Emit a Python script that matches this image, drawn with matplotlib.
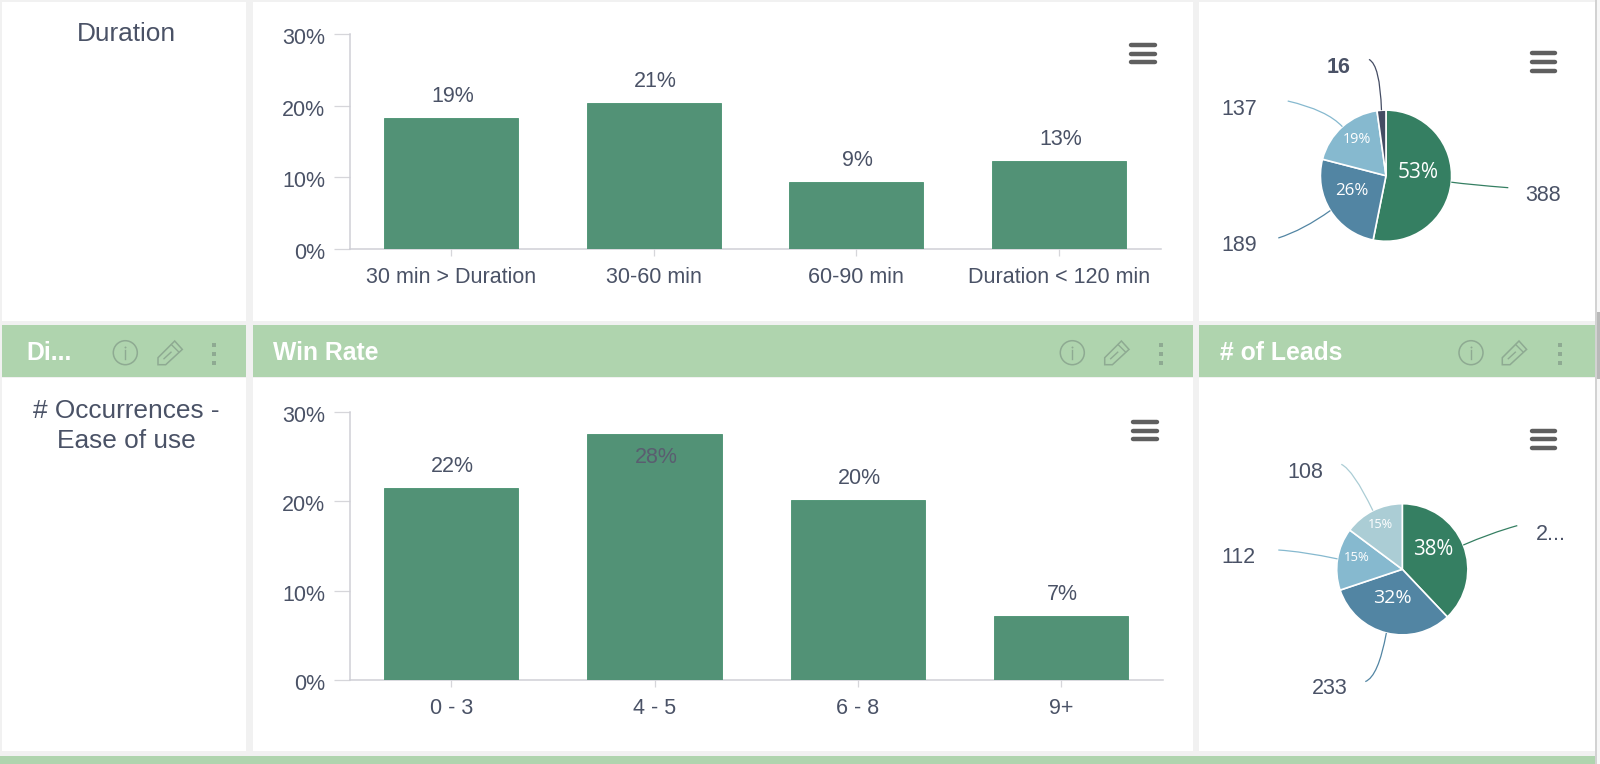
import matplotlib
matplotlib.use('Agg')
import matplotlib.pyplot as plt
from matplotlib.patches import Rectangle, Circle, Polygon, PathPatch
from matplotlib.path import Path
from matplotlib.transforms import ScaledTranslation
import numpy as np

plt.rcParams['font.family'] = ['Liberation Sans', 'DejaVu Sans']

W, H = 1600, 764
TEXT = '#4a5266'

# data
duration_cats = ['30 min > Duration', '30-60 min', '60-90 min', 'Duration < 120 min']
duration_vals = [18.3, 20.4, 9.3, 12.3]
duration_labels = ['19%', '21%', '9%', '13%']

occ_cats = ['0 - 3', '4 - 5', '6 - 8', '9+']
occ_vals = [21.5, 27.6, 20.2, 7.1]
occ_labels = ['22%', '28%', '20%', '7%']

leads1_vals = [388, 189, 137, 16]
leads1_names = ['388', '189', '137', '16']
leads1_pct = ['53%', '26%', '19%', '']

leads2_vals = [277, 233, 112, 108]
leads2_names = ['2...', '233', '112', '108']
leads2_pct = ['38%', '32%', '15%', '15%']

pie1_colors = ['#357f62', '#5285a3', '#86b9cf', '#444c63']
pie2_colors = ['#357f62', '#5285a3', '#86b9cf', '#abcdd5']

fig = plt.figure(figsize=(W / 100, H / 100), dpi=100, facecolor='#f1f1f1')


def px_axes(x0, y0, x1, y1):
    return fig.add_axes([x0 / W, 1 - y1 / H, (x1 - x0) / W, (y1 - y0) / H])


# page chrome, in pixels
bg = px_axes(0, 0, W, H)
bg.set_xlim(0, W)
bg.set_ylim(H, 0)
bg.axis('off')

for x0, x1 in [(2, 246), (253, 1193), (1199, 1595)]:
    bg.add_patch(Rectangle((x0, 2), x1 - x0, 318.5, fc='white', ec='none'))
    bg.add_patch(Rectangle((x0, 378), x1 - x0, 372.5, fc='white', ec='none'))
    bg.add_patch(Rectangle((x0, 325), x1 - x0, 52, fc='#afd4ae', ec='none'))
bg.add_patch(Rectangle((0, 756), 1595, 8, fc='#afd4ae', ec='none'))
# scrollbar at the right edge
bg.add_patch(Rectangle((1595, 0), 5, H, fc='#f7f7f7', ec='none'))
bg.add_patch(Rectangle((1595, 0), 1.6, H, fc='#d2d2d2', ec='none'))
bg.add_patch(Rectangle((1596.7, 312), 3.3, 67, fc='#b9b9b9', ec='none'))

for x, s in [(26, 'Di...'), (273, 'Win Rate'), (1220, '# of Leads')]:
    bg.text(x, 353, s, color='white', fontsize=17.8, fontweight='bold', va='center', ha='left')

bg.text(126, 34, 'Duration', color=TEXT, fontsize=18.9, ha='center', va='center')
bg.text(126, 411.5, '# Occurrences -', color=TEXT, fontsize=18.9, ha='center', va='center')
bg.text(126, 441, 'Ease of use', color=TEXT, fontsize=18.9, ha='center', va='center')

ICON = '#8eaa92'
for ix, px, dx in [(125.3, 170, 214.3), (1072.3, 1116.7, 1161.3), (1471, 1514.3, 1560)]:
    bg.add_patch(Circle((ix, 352.7), 12, fc='none', ec=ICON, lw=1.1))
    bg.plot([ix, ix], [350, 358.5], color=ICON, lw=1)
    bg.plot([ix], [346.8], marker='o', ms=1.4, color=ICON, mew=0)
    cy = 352.7
    bg.add_patch(Polygon([(px - 12, cy + 12), (px - 12, cy + 5), (px + 4.7, cy - 11.7),
                          (px + 12.3, cy - 3.3), (px - 4.3, cy + 12)], closed=True,
                         fc='none', ec=ICON, lw=1.1))
    bg.plot([px + 1.5, px + 8.8], [cy - 8, cy - 0.7], color=ICON, lw=1)
    bg.plot([px - 6, px + 1], [cy + 6, cy - 0.5], color=ICON, lw=1)
    for d in [345, 353.7, 362.7]:
        bg.plot([dx], [d], marker='s', ms=2.8, color=ICON, mew=0)

for x0, x1, ys in [(1129.3, 1156.7, (45, 53.7, 62.3)),
                   (1530, 1557.3, (53.3, 62, 70.7)),
                   (1131, 1158.7, (422.3, 430.7, 439)),
                   (1530, 1557.3, (430.7, 439.3, 447.7))]:
    for y in ys:
        bg.plot([x0 + 2, x1 - 2], [y, y], color='#5f5f5f', lw=3.2, solid_capstyle='round')


def bar_chart(rect, cats, vals, labels):
    ax = px_axes(*rect)
    ax.patch.set_visible(False)
    x = np.arange(len(cats))
    ax.bar(x, vals, width=0.66, facecolor='#529276', edgecolor='#47906f', linewidth=0.6, zorder=3)
    ax.set_xlim(-0.5, len(cats) - 0.5)
    ax.set_ylim(0, 30)
    ax.set_xticks(x, cats)
    ax.set_yticks([0, 10, 20, 30], ['0%', '10%', '20%', '30%'])
    for s in ['top', 'right']:
        ax.spines[s].set_visible(False)
    for s in ['left', 'bottom']:
        ax.spines[s].set_color('#cfcfd6')
        ax.spines[s].set_linewidth(1.1)
    ax.tick_params(axis='y', length=11.5, width=0.9, color='#d6d6da', pad=6, labelsize=15.5, labelcolor=TEXT)
    ax.tick_params(axis='x', length=5, width=0.9, color='#d6d6da', pad=8, labelsize=15.5, labelcolor=TEXT)
    shift = ScaledTranslation(0, -2 / 100, fig.dpi_scale_trans)
    for lab in ax.get_yticklabels():
        lab.set_transform(lab.get_transform() + shift)
    for i, (v, s) in enumerate(zip(vals, labels)):
        if v > 25:
            # no room above the bar, the label falls inside it
            ax.annotate(s, (i, v), xytext=(1, -17.5), textcoords='offset points', ha='center', va='center',
                        fontsize=15.5, color='#5a5d70', zorder=4)
        else:
            ax.annotate(s, (i, v), xytext=(1, 15.5), textcoords='offset points', ha='center', va='center',
                        fontsize=15.5, color=TEXT, zorder=4)
    return ax


bar_chart((349.5, 33.7, 1160.5, 249.3), duration_cats, duration_vals, duration_labels)
bar_chart((349.5, 412.3, 1163, 679.7), occ_cats, occ_vals, occ_labels)


def pie_chart(center, rect, vals, colors, names, pct, ends, ctrls, name_pos, pct_pos, pct_sizes, bold=()):
    cx, cy = center
    ax = px_axes(*rect)
    ax.patch.set_visible(False)
    R = 65.6
    wedges, _ = ax.pie(vals, colors=colors, radius=R, startangle=90, counterclock=False,
                       wedgeprops=dict(edgecolor='white', linewidth=1.2))
    ax.set_xlim(rect[0] - cx, rect[2] - cx)
    ax.set_ylim(cy - rect[3], cy - rect[1])
    ax.set_aspect('equal')
    ax.axis('off')
    for i, w in enumerate(wedges):
        a = np.deg2rad((w.theta1 + w.theta2) / 2)
        start = (R * np.cos(a), R * np.sin(a))
        p = Path([start, ctrls[i], ends[i]], [Path.MOVETO, Path.CURVE3, Path.CURVE3])
        ax.add_patch(PathPatch(p, fc='none', ec=colors[i], lw=0.9, clip_on=False))
        ha = 'left' if name_pos[i][0] > 0 else 'right'
        ax.text(name_pos[i][0], name_pos[i][1] - 2, names[i], ha=ha, va='center', fontsize=15.5, color=TEXT,
                fontweight='bold' if i in bold else 'normal')
        if pct[i]:
            ax.text(pct_pos[i][0], pct_pos[i][1] - 1, pct[i], ha='center', va='center', color='white',
                    fontsize=pct_sizes[i], family='Open Sans')


pie_chart((1386, 175.7), (1199, 2, 1595, 320), leads1_vals, pie1_colors, leads1_names, leads1_pct,
          ends=[(122.3, -12), (-107.7, -62.3), (-98.3, 74.7), (-17, 116.3)],
          ctrls=[(84, -9), (-82.7, -54.3), (-59, 65.7), (-6, 110.7)],
          name_pos=[(139.3, -17.7), (-129.3, -67.7), (-129.3, 68.3), (-35, 110)],
          pct_pos=[(31.7, 4), (-34, -14.3), (-29.3, 37), (0, 0)],
          pct_sizes=[15, 12.2, 10.4, 10], bold=(3,))

pie_chart((1402.3, 569.3), (1199, 378, 1595, 750), leads2_vals, pie2_colors, leads2_names, leads2_pct,
          ends=[(115, 43.7), (-37, -112.3), (-124, 19.3), (-61, 105)],
          ctrls=[(87.7, 36), (-24, -107.3), (-99, 17.7), (-49, 99.3)],
          name_pos=[(133.3, 36.7), (-54.7, -117.3), (-147, 14), (-79.3, 98.7)],
          pct_pos=[(30.7, 21), (-10, -27.3), (-45.7, 13), (-21.7, 46)],
          pct_sizes=[14.8, 14, 9.4, 9.2])

fig.savefig('out.png', dpi=100, facecolor=fig.get_facecolor())
